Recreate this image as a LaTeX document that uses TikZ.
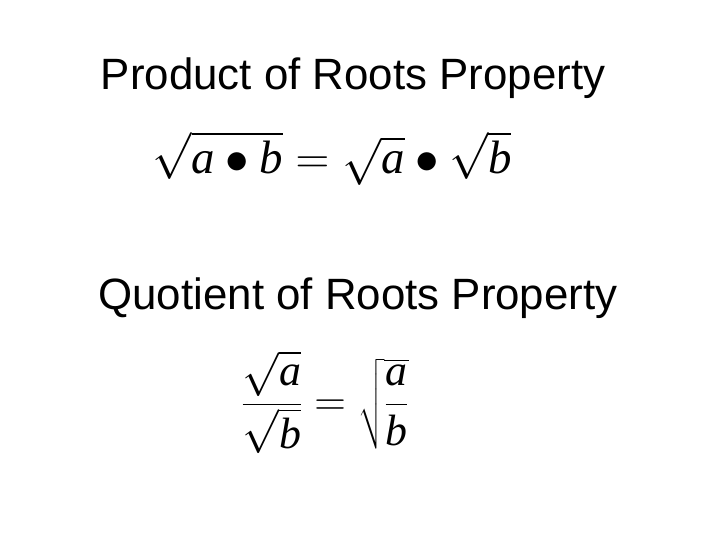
\RequirePackage{fix-cm}
\documentclass[tikz,border=0pt]{standalone}
\usepackage{fontspec}
\setmainfont{Liberation Sans}
\newfontfamily\tms{Liberation Serif}
\newcommand{\va}{\text{\tms\itshape a}}
\newcommand{\vb}{\text{\tms\itshape b}}
\usepackage{amsmath}
\begin{document}
\begin{tikzpicture}[x=1bp,y=-1bp,
  title/.style={font=\fontsize{44}{48}\selectfont},
  formula/.style={font=\fontsize{47}{54}\selectfont}]
\useasboundingbox (0,0) rectangle (720,540);
\node[title] (t1) at (353,78) {Product of Roots Property};
\node[formula] (f1) at (332,158) {$\sqrt{\va\mathbin{\bullet}\vb}=\sqrt{\va}\mathbin{\bullet}\sqrt{\vb}$};
\node[title] (t2) at (358,298) {Quotient of Roots Property};
\node[formula,font=\fontsize{44}{50}\selectfont] (f2) at (325,402) {$\dfrac{\sqrt{\va}}{\sqrt{\vb}}=\sqrt{\dfrac{\va}{\vb}}$};
\end{tikzpicture}
\end{document}
